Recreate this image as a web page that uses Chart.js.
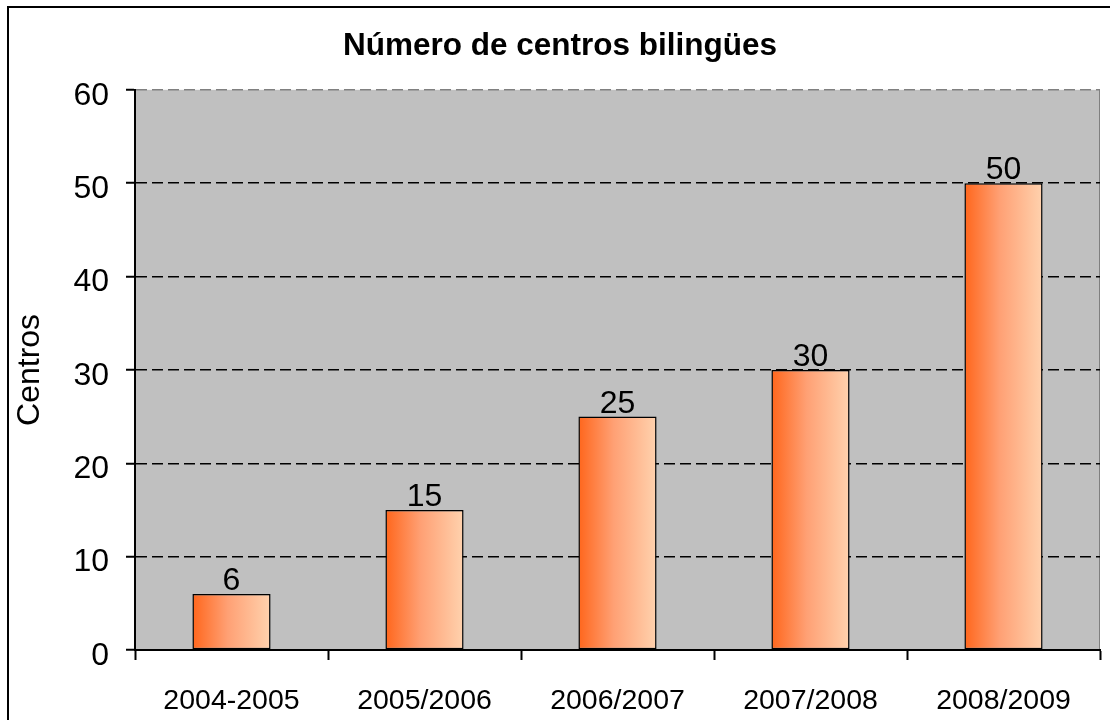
<!DOCTYPE html>
<html>
<head>
<meta charset="utf-8">
<script src="https://cdn.jsdelivr.net/npm/chart.js@4/dist/chart.umd.min.js"></script>
<style>
  html, body { margin: 0; padding: 0; background: #fff; }
  #wrap { width: 1110px; height: 720px; }
</style>
</head>
<body>
<div id="wrap"><canvas id="centrosChart" width="1110" height="720"></canvas></div>
<script>
const years = ["2004-2005", "2005/2006", "2006/2007", "2007/2008", "2008/2009"];
const centros = [6, 15, 25, 30, 50];
const yTicks = [0, 10, 20, 30, 40, 50, 60];

const FONT = "'Liberation Sans', Arial, sans-serif";
const BAR_PCT = 0.405;

// gris de fondo + marco exterior (solo izquierda y arriba se ven)
const plotBg = {
  id: "plotBg",
  beforeDraw(chart) {
    const { ctx, chartArea: a } = chart;
    ctx.save();
    ctx.fillStyle = "#C0C0C0";
    ctx.fillRect(a.left, a.top, a.right - a.left, a.bottom - a.top);
    ctx.strokeStyle = "#808080";
    ctx.lineWidth = 1;
    ctx.beginPath();
    ctx.moveTo(a.right - 0.5, a.top);
    ctx.lineTo(a.right - 0.5, a.bottom);
    ctx.stroke();
    ctx.strokeStyle = "#000";
    ctx.lineWidth = 2;
    ctx.strokeRect(8, 7, 1300, 900);
    ctx.restore();
  }
};

const valueLabels = {
  id: "valueLabels",
  afterDatasetsDraw(chart) {
    const { ctx } = chart;
    const meta = chart.getDatasetMeta(0);
    ctx.save();
    ctx.font = "32px " + FONT;
    ctx.fillStyle = "#000";
    ctx.textAlign = "center";
    ctx.textBaseline = "alphabetic";
    meta.data.forEach((bar, i) => {
      ctx.fillText(String(centros[i]), bar.x, bar.y - 4);
    });
    ctx.restore();
  }
};

function barGradient(context) {
  const chart = context.chart;
  const xs = chart.scales.x;
  if (!xs || !chart.chartArea) return "#FF8040";
  const cx = xs.getPixelForValue(context.dataIndex);
  const half = (xs.width / years.length) * BAR_PCT / 2;
  const g = chart.ctx.createLinearGradient(cx - half, 0, cx + half, 0);
  g.addColorStop(0, "#FF661C");
  g.addColorStop(0.45, "#FFA074");
  g.addColorStop(1, "#FFD2AE");
  return g;
}

const ctx = document.getElementById("centrosChart").getContext("2d");

new Chart(ctx, {
  type: "bar",
  data: {
    labels: years,
    datasets: [{
      data: centros,
      backgroundColor: barGradient,
      borderColor: "#000",
      borderWidth: 1.5,
      borderSkipped: false,
      categoryPercentage: 1,
      barPercentage: BAR_PCT
    }]
  },
  options: {
    responsive: false,
    animation: false,
    layout: { padding: { left: 20, right: 10, top: 0, bottom: 0 } },
    plugins: {
      legend: { display: false },
      tooltip: { enabled: false },
      title: {
        display: true,
        text: "Número de centros bilingües",
        color: "#000",
        font: { family: FONT, size: 31.5, weight: "bold" },
        padding: { top: 27, bottom: 25 }
      }
    },
    scales: {
      x: {
        offset: true,
        grid: {
          offset: true,
          drawOnChartArea: false,
          drawTicks: true,
          tickLength: 10,
          tickColor: "#000",
          tickWidth: 2
        },
        border: { display: true, color: "#000", width: 2 },
        ticks: {
          color: "#000",
          font: { family: FONT, size: 28.5 },
          padding: 24,
          maxRotation: 0
        },
        afterFit(scale) { scale.height = 70; }
      },
      y: {
        min: 0,
        max: 60,
        afterBuildTicks(scale) {
          scale.ticks = yTicks.map(v => ({ value: v }));
        },
        grid: {
          color: c => c.tick.value === 0 ? "rgba(0,0,0,0)" : (c.tick.value === 60 ? "#808080" : "#000"),
          lineWidth: 1.5,
          drawTicks: true,
          tickLength: 9,
          tickColor: "#000",
          tickWidth: 2
        },
        border: { display: true, color: "#000", width: 2, dash: [11, 5] },
        ticks: {
          color: "#000",
          font: { family: FONT, size: 32 },
          padding: 17,
          labelOffset: 6
        },
        title: {
          display: true,
          text: "Centros",
          color: "#000",
          font: { family: FONT, size: 32 },
          padding: { top: -9, bottom: 0 }
        },
        afterFit(scale) { scale.width = 115; }
      }
    }
  },
  plugins: [plotBg, valueLabels]
});
</script>
</body>
</html>
